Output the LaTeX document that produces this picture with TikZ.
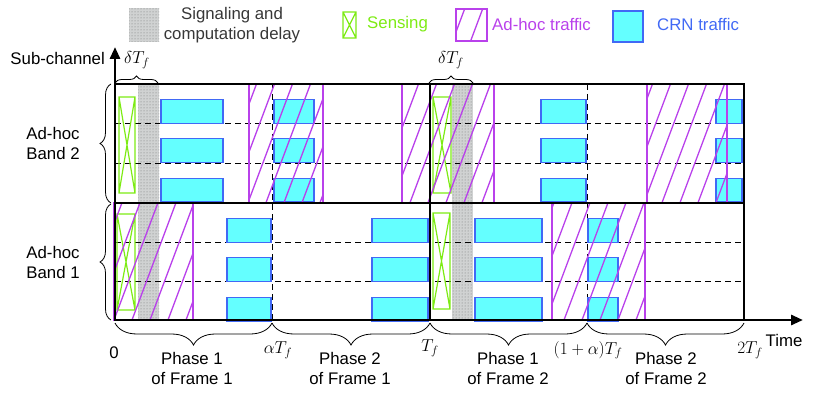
\documentclass[tikz,border=0pt]{standalone}
\usepackage{fontspec}
\setmainfont{Liberation Sans}
\usetikzlibrary{arrows.meta,decorations.pathreplacing,patterns}

\definecolor{sensegreen}{RGB}{125,235,20}
\definecolor{adhocpurple}{RGB}{185,65,235}
\definecolor{crnblue}{RGB}{65,105,245}
\definecolor{crncyan}{RGB}{100,255,255}
\definecolor{delaygray}{RGB}{208,210,210}
\definecolor{textgray}{RGB}{55,55,55}

% ad-hoc traffic: hatched box
\newcommand{\adhocbox}[4]{%
  \begin{scope}
    \clip (#1,#2) rectangle (#3,#4);
    \foreach \s in {0,18,...,918}
      \draw[hatch] (\s-150,400) -- (\s,0);
  \end{scope}
  \draw[adhoc] (#1,#2) rectangle (#3,#4);}

% sensing: box with a cross
\newcommand{\sensebox}[4]{%
  \draw[sense] (#1,#2) rectangle (#3,#4) (#1,#2) -- (#3,#4) (#3,#2) -- (#1,#4);}

% CRN traffic in the three sub-channels of one band (left, right, band top)
\newcommand{\crnrows}[3]{%
  \foreach \r in {0,1,2}
    \draw[crn] (#1,#3+15.5+39.3*\r) rectangle (#2,#3+39.3+39.3*\r);}

% signaling and computation delay strip
\newcommand{\delaystrip}[4]{%
  \fill[delay] (#1,#2) rectangle (#3,#4);
  \fill[pattern=dots, pattern color=black!55] (#1,#2) rectangle (#3,#4);}

\begin{document}
\begin{tikzpicture}[x=1pt, y=-1pt,
  every node/.style={font=\fontsize{16.8}{20}\selectfont, inner sep=0pt},
  frame/.style={line width=2.8pt},
  grid/.style={dash pattern=on 6pt off 4pt, line width=1pt},
  crn/.style={draw=crnblue, fill=crncyan, line width=1.2pt},
  sense/.style={draw=sensegreen, line width=1.2pt},
  adhoc/.style={draw=adhocpurple, line width=1.2pt},
  hatch/.style={adhocpurple, line width=1.3pt},
  delay/.style={fill=delaygray},
  brace/.style={decorate, decoration={brace, amplitude=#1}, line width=0.8pt},
  brace below/.style={decorate, decoration={brace, mirror, amplitude=#1}, line width=0.8pt}
]
\useasboundingbox (0,0) rectangle (819,393);

% time marks
\coordinate (t0) at (115,320);
\coordinate (ta) at (272,320);
\coordinate (t1) at (430,320);
\coordinate (tb) at (587,320);
\coordinate (t2) at (744,320);
\coordinate (xend) at (803,320);
\coordinate (yend) at (115,47);

% signaling and computation delay
\delaystrip{138}{84}{159}{320}
\delaystrip{452}{84}{473}{320}

% sub-channel borders and phase borders
\foreach \y in {124,163,242,281}
  \draw[grid] (115,\y) -- (744,\y);
\draw[grid] (272,84) -- (ta);
\draw[grid] (587,84) -- (tb);

% CRN traffic
\crnrows{161}{223}{84}
\crnrows{274}{314}{84}
\crnrows{541}{586}{84}
\crnrows{716}{742}{84}
\crnrows{227}{271}{203}
\crnrows{372}{428}{203}
\crnrows{475}{542}{203}
\crnrows{588}{618}{203}

% sensing
\sensebox{119}{97}{135}{193}
\sensebox{117}{214}{135}{310}
\sensebox{433}{97}{451}{193}
\sensebox{433}{213}{450}{309}

% ad-hoc traffic
\adhocbox{249}{84}{323}{203}
\adhocbox{402}{84}{494}{203}
\adhocbox{647}{84}{727}{203}
\adhocbox{114}{203}{193}{320}
\adhocbox{552}{203}{645}{320}

% bands and frames
\draw[frame] (115,84) rectangle (t2);
\draw[frame] (115,203) -- (744,203);
\draw[frame] (430,84) -- (t1);

% axes
\draw[frame, -{Triangle[length=12pt,width=10pt]}] (t0) -- (xend);
\draw[frame, -{Triangle[length=12pt,width=10pt]}] (t0) -- (yend);
\node[anchor=east] (ylab) at (105,58) {Sub-channel};
\node (xlab) at (784,340) {Time};

% time labels
\node (l0) at (114,353) {0};
\node (la) at (278,350) {$\alpha T_f$};
\node (l1) at (430,348) {$T_f$};
\node (lb) at (588,350) {$(1+\alpha)T_f$};
\node (l2) at (750,350) {$2T_f$};

% phases
\coordinate (p0) at (115,323);
\coordinate (pa) at (272,323);
\coordinate (p1) at (430,323);
\coordinate (pb) at (587,323);
\coordinate (p2) at (744,323);
\draw[brace below=22pt] (p0) -- (pa);
\draw[brace below=22pt] (pa) -- (p1);
\draw[brace below=22pt] (p1) -- (pb);
\draw[brace below=22pt] (pb) -- (p2);
\node[align=center] (ph11) at (192,368) {Phase 1\\of Frame 1};
\node[align=center] (ph21) at (350,368) {Phase 2\\of Frame 1};
\node[align=center] (ph12) at (508,368) {Phase 1\\of Frame 2};
\node[align=center] (ph22) at (666,368) {Phase 2\\of Frame 2};

% delay braces
\coordinate (da) at (115,83);
\coordinate (db) at (158,83);
\coordinate (dc) at (429,83);
\coordinate (dd) at (473,83);
\draw[brace=7pt] (da) -- (db);
\draw[brace=7pt] (dc) -- (dd);
\node (dl1) at (137,60) {$\delta T_f$};
\node (dl2) at (451,60) {$\delta T_f$};

% bands
\coordinate (b2top) at (111,84);
\coordinate (b2bot) at (111,203);
\coordinate (b1top) at (111,204);
\coordinate (b1bot) at (111,320);
\draw[brace=11pt] (b2bot) -- (b2top);
\draw[brace=11pt] (b1bot) -- (b1top);
\node[align=center] (band2) at (53,143) {Ad-hoc\\Band 2};
\node[align=center] (band1) at (53,262) {Ad-hoc\\Band 1};

% legend
\delaystrip{129}{8}{159}{42}
\node[align=center, text=textgray] (lgdelay) at (232,25) {Signaling and\\computation delay};
\sensebox{343}{12}{356}{38}
\node[anchor=west, text=sensegreen] (lgsense) at (367,24) {Sensing};
\adhocbox{456}{9}{487}{41}
\node[anchor=west, text=adhocpurple] (lgadhoc) at (492,24) {Ad-hoc traffic};
\draw[crn] (613,11) rectangle (643,42);
\node[anchor=west, text=crnblue] (lgcrn) at (657,24) {CRN traffic};

\end{tikzpicture}
\end{document}
